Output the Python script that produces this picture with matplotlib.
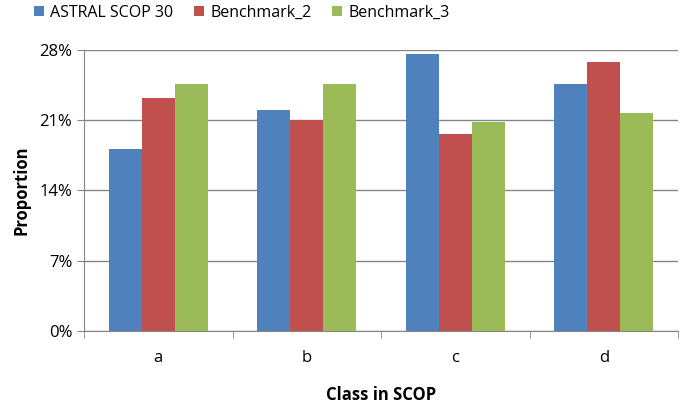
import matplotlib.pyplot as plt
import numpy as np
from matplotlib.ticker import FuncFormatter

# ----------------------------
# DATA
# ----------------------------
classes = ["a", "b", "c", "d"]
astral = [18.1, 22.0, 27.6, 24.6]
bench2 = [23.2, 21.0, 19.6, 26.8]
bench3 = [24.6, 24.6, 20.8, 21.75]
series_names = ["ASTRAL SCOP 30", "Benchmark_2", "Benchmark_3"]
colors = ["#4F81BD", "#C0504D", "#9BBB59"]

plt.rcParams['font.family'] = ['Open Sans', 'DejaVu Sans']

fig = plt.figure(figsize=(6.85, 4.07), dpi=100)
ax = fig.add_axes([0.1226, 0.1875, 0.8674, 0.6895])

x = np.arange(len(classes))
w = 0.222
for i, (vals, name, c) in enumerate(zip([astral, bench2, bench3], series_names, colors)):
    ax.bar(x + (i - 1) * w, vals, width=w, color=c, label=name, zorder=3)

ax.set_xlim(-0.5, len(classes) - 0.5)
ax.set_ylim(0, 28)
ax.set_yticks([0, 7, 14, 21, 28])
ax.yaxis.set_major_formatter(FuncFormatter(lambda v, p: f"{int(v)}%"))
ax.set_xticks(x)
ax.set_xticklabels(classes)
ax.set_xticks(np.arange(-0.5, len(classes)), minor=True)
ax.tick_params(axis='x', which='major', length=0, labelsize=12, pad=14)
ax.tick_params(axis='x', which='minor', length=5, color='#868686')
ax.tick_params(axis='y', length=5, color='#868686', labelsize=12)

ax.grid(axis='y', color='#868686', linewidth=1, zorder=0)
for s in ['top', 'right']:
    ax.spines[s].set_visible(False)
for s in ['left', 'bottom']:
    ax.spines[s].set_color('#868686')

ax.set_xlabel('Class in SCOP', fontsize=12, fontweight='bold', labelpad=14)
ax.set_ylabel('Proportion', fontsize=12, fontweight='bold', labelpad=6)

ax.legend(loc='center', bbox_to_anchor=(0.266, 1.132), ncol=3, frameon=False,
          fontsize=11.5, handlelength=0.6, handleheight=0.6, handletextpad=0.4,
          columnspacing=1.3)

plt.savefig("out.png", dpi=100)
